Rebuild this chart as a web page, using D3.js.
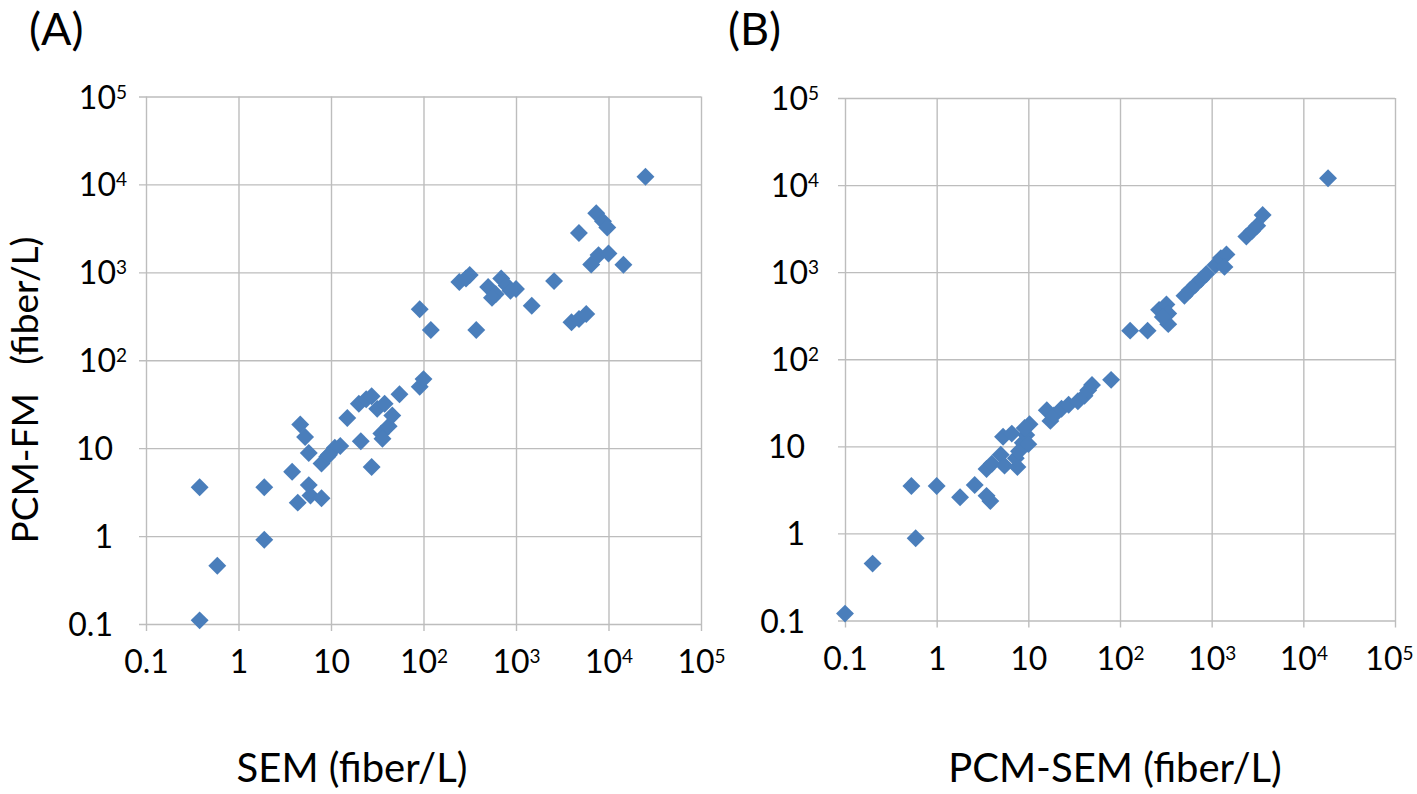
<!DOCTYPE html>
<html>
<head>
<meta charset="utf-8">
<script src="https://cdn.jsdelivr.net/npm/d3@7"></script>
<style>
  body { margin: 0; background: #fff; }
  text { font-family: Lato, "Open Sans", sans-serif; fill: #000; }
</style>
</head>
<body>
<svg id="chart" width="1417" height="794"></svg>
<script>
// panel A: SEM vs PCM-FM
var semA = [0.38, 0.38, 0.59, 1.9, 1.9, 3.8, 4.65, 5.25, 5.75, 4.37, 5.75, 6.0, 7.9, 7.9, 9.1, 11, 9.5, 12.6,
  15, 21, 20, 24, 27.5, 27.5, 31.6, 38, 35, 36, 42, 46, 55, 91, 100, 91, 120,
  244, 316, 288, 372, 500, 603, 692, 794, 1000, 871, 550, 1480, 2580, 3980, 4800, 5750,
  4790, 7370, 8710, 9700, 6500, 7800, 10000, 14500, 25100];
var fmA = [3.6, 0.11, 0.46, 3.6, 0.91, 5.4, 18.6, 13.4, 8.8, 2.4, 3.8, 2.9, 2.7, 6.7, 8.0, 10.1, 8.4, 10.6,
  22, 12, 32, 36, 39, 6.1, 28, 32, 14.7, 12.8, 17.8, 23.5, 41, 50, 61, 380, 221,
  776, 933, 850, 221, 680, 562, 850, 708, 645, 617, 515, 417, 795, 270, 295, 336,
  2800, 4700, 3800, 3240, 1230, 1570, 1640, 1220, 12200];

// panel B: PCM-SEM vs PCM-FM
var pcmSemB = [0.1, 0.2, 0.53, 0.59, 1.0, 1.8, 2.6, 3.85, 3.5, 3.5, 4.0, 5.3, 5.0, 5.5, 6.6, 7.6, 7.3, 7.9,
  8.7, 9.5, 10.3, 9.1, 10, 15.9, 17.4, 19, 23, 27.5, 34.7, 41, 45, 49.5, 80,
  129, 200, 267, 321, 336, 336, 293, 505, 580, 666, 764, 875, 1100, 1260, 1450, 1380,
  2390, 2750, 3140, 3600, 18600];
var fmB = [0.12, 0.45, 3.5, 0.88, 3.5, 2.6, 3.6, 2.35, 2.7, 5.5, 6.3, 12.9, 8.0, 6.0, 14, 5.8, 7.3, 8.8,
  11, 13.5, 17.9, 16.2, 10.6, 26, 19.6, 22.6, 27, 30, 33, 38, 44, 50.6, 58,
  213, 213, 369, 425, 336, 253, 305, 537, 622, 716, 826, 953, 1210, 1450, 1600, 1150,
  2570, 2960, 3410, 4540, 12000];

var tickValues = [0.1, 1, 10, 100, 1000, 10000, 100000];
var tickBase = ["0.1", "1", "10", "10", "10", "10", "10"];
var tickExp = ["", "", "", "2", "3", "4", "5"];

var svg = d3.select("#chart");
var gridColor = "#bdbdbd";
var markerColor = "#4a7ebb";
var pageW = 1417;

var panels = [
  { letter: "(A)", lx: 29, ly: 45, left: 146, right: 701, top: 96.5, bottom: 624,
    xs: semA, ys: fmA, xTitle: "SEM (fiber/L)", xtx: 352, yTitle: "PCM-FM   (fiber/L)",
    expOff: 19, plainOff: 33 },
  { letter: "(B)", lx: 728, ly: 45, left: 845, right: 1395, top: 98, bottom: 620.5,
    xs: pcmSemB, ys: fmB, xTitle: "PCM-SEM (fiber/L)", xtx: 1115, yTitle: null,
    expOff: 26, plainOff: 40 }
];

function labelTicks(sel, anchor) {
  sel.each(function (d, i) {
    var t = d3.select(this).text(null).attr("text-anchor", anchor);
    t.append("tspan").text(tickBase[i]);
    if (tickExp[i]) {
      t.append("tspan").attr("dy", -10).style("font-size", "19px").text(tickExp[i]);
    }
  });
}

panels.forEach(function (p) {
  var w = p.right - p.left, h = p.bottom - p.top;
  var x = d3.scaleLog().domain([0.1, 1e5]).range([p.left, p.right]);
  var y = d3.scaleLog().domain([0.1, 1e5]).range([p.bottom, p.top]);

  // vertical grid + ticks below
  var gx = svg.append("g").attr("transform", "translate(0," + p.top + ")")
    .call(d3.axisBottom(x).tickValues(tickValues).tickSize(h + 7).tickSizeOuter(0));
  gx.select(".domain").remove();
  gx.selectAll("line").attr("stroke", gridColor).attr("stroke-width", 1.4);
  gx.selectAll("text").attr("y", h + 49).attr("dy", 0).style("font-size", "32px")
    .call(labelTicks, "middle");
  // keep the last label inside the page
  gx.selectAll("text").each(function (d) {
    var b = this.getBBox(), edge = x(d) + b.x + b.width;
    if (edge > pageW - 4) d3.select(this).attr("x", pageW - 4 - edge);
  });

  // horizontal grid + ticks left
  var gy = svg.append("g").attr("transform", "translate(" + p.right + ",0)")
    .call(d3.axisLeft(y).tickValues(tickValues).tickSize(w + 7).tickSizeOuter(0));
  gy.select(".domain").remove();
  gy.selectAll("line").attr("stroke", gridColor).attr("stroke-width", 1.4);
  gy.selectAll("text")
    .attr("x", function (d, i) { return -w - (tickExp[i] ? p.expOff : p.plainOff); })
    .attr("dy", "0.36em").style("font-size", "32px")
    .call(labelTicks, "end");

  // markers
  var diamond = d3.symbol().type(d3.symbolDiamond2).size(205);
  svg.append("g").selectAll("path")
    .data(p.xs.map(function (v, i) { return [v, p.ys[i]]; }))
    .join("path")
    .attr("d", diamond)
    .attr("transform", function (d) { return "translate(" + x(d[0]) + "," + y(d[1]) + ")"; })
    .attr("fill", markerColor);

  svg.append("text").attr("x", p.lx).attr("y", p.ly).style("font-size", "45px").text(p.letter);

  svg.append("text").attr("x", p.xtx).attr("y", 782).attr("text-anchor", "middle")
    .style("font-size", "40px").text(p.xTitle);

  if (p.yTitle) {
    svg.append("text").attr("transform", "translate(38,390) rotate(-90)")
      .attr("text-anchor", "middle").style("font-size", "37px")
      .style("white-space", "pre").text(p.yTitle);
  }
});
</script>
</body>
</html>
